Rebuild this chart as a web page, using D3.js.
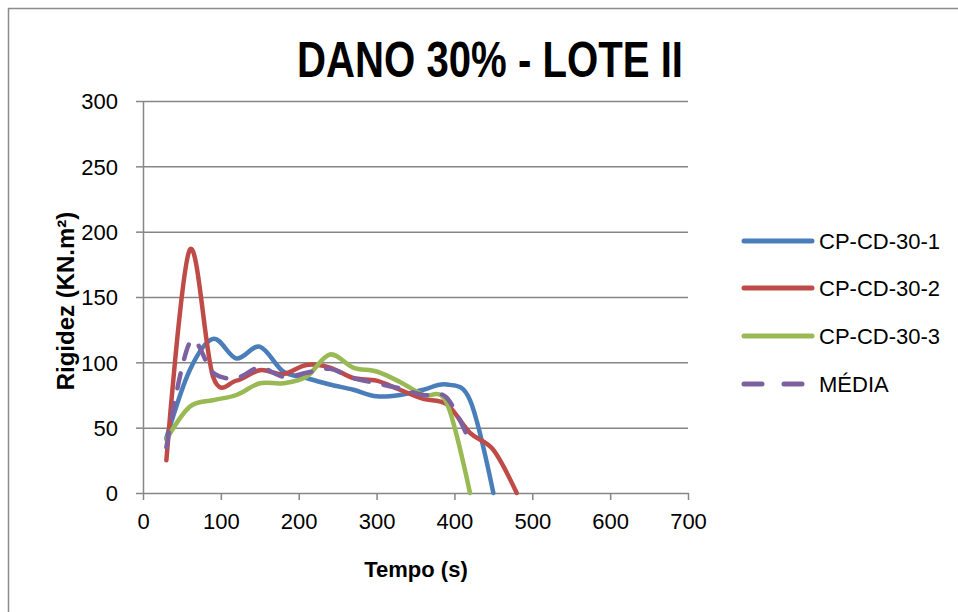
<!DOCTYPE html>
<html>
<head>
<meta charset="utf-8">
<script src="https://cdn.jsdelivr.net/npm/d3@7"></script>
<style>
  body { margin: 0; background: #fff; }
  text { font-family: "Liberation Sans", Arial, sans-serif; fill: #000; }
</style>
</head>
<body>
<svg width="958" height="612"></svg>
<script>
// values, one point every 30 s
const tempo = [30, 60, 90, 120, 150, 180, 210, 240, 270, 300, 330, 360, 390, 420, 450, 480];
const cp1 = [42, 94, 118, 103, 112, 93, 88, 83, 79, 74, 75, 79, 83, 71, 0];
const cp2 = [25, 186, 89, 86, 94, 91, 98, 96, 88, 86, 79, 72, 68, 46, 33, 0];
const cp3 = [41, 66, 71, 75, 84, 84, 89, 106, 96, 93, 85, 75, 69, 0];
const media = [35, 115, 92, 88, 96, 89, 92, 95, 88, 84, 80, 75, 73, 39];

const seriesNames = ["CP-CD-30-1", "CP-CD-30-2", "CP-CD-30-3", "MÉDIA"];
const seriesColors = ["#4A7EBB", "#BE4B48", "#98B954", "#7D60A0"];
const xTicks = [0, 100, 200, 300, 400, 500, 600, 700];
const yTicks = [0, 50, 100, 150, 200, 250, 300];

function drawChart() {
    let svg = d3.select("svg");

    let left = 143, right = 688, top = 101, bottom = 493;

    let x = d3.scaleLinear().domain([0, 700]).range([left, right]);
    let y = d3.scaleLinear().domain([0, 300]).range([bottom, top]);

    // outer frame (runs off the right and bottom edges)
    svg.append("rect")
        .attr("x", 8.5).attr("y", 8.5)
        .attr("width", 980).attr("height", 640)
        .attr("fill", "none")
        .attr("stroke", "#8c8c8c")
        .attr("stroke-width", 1.5);

    // gridlines
    svg.append("g")
        .attr("transform", "translate(" + left + ",0)")
        .call(d3.axisLeft(y).tickValues(yTicks.slice(1)).tickSize(-(right - left)).tickFormat(""))
        .call(g => g.select(".domain").remove())
        .selectAll("line")
        .attr("stroke", "#868686")
        .attr("stroke-width", 1.5);

    // y axis
    let yAxis = svg.append("g")
        .attr("transform", "translate(" + left + ",0)")
        .call(d3.axisLeft(y).tickValues(yTicks).tickSize(7).tickSizeOuter(0).tickPadding(18));
    yAxis.selectAll("text").style("font-size", "22px").attr("dy", "0.35em");

    // x axis
    let xAxis = svg.append("g")
        .attr("transform", "translate(0," + bottom + ")")
        .call(d3.axisBottom(x).tickValues(xTicks).tickSize(7).tickSizeOuter(0).tickPadding(13));
    xAxis.selectAll("text").style("font-size", "22px");

    svg.selectAll(".domain, .tick line").attr("stroke", "#868686").attr("stroke-width", 1.5);

    // series lines
    let line = d3.line()
        .x(d => x(d[0]))
        .y(d => y(d[1]))
        .curve(d3.curveCardinal.tension(0));

    let seriesValues = [cp1, cp2, cp3, media];
    seriesValues.forEach(function (vals, i) {
        let pts = vals.map((v, j) => [tempo[j], v]);
        let p = svg.append("path")
            .attr("d", line(pts))
            .attr("fill", "none")
            .attr("stroke", seriesColors[i])
            .attr("stroke-width", 4.5)
            .attr("stroke-linecap", "round")
            .attr("stroke-linejoin", "round");
        if (i === 3) p.attr("stroke-dasharray", "15,15");
    });

    // title
    svg.append("text")
        .attr("x", 490).attr("y", 77)
        .attr("text-anchor", "middle")
        .attr("textLength", 386)
        .attr("lengthAdjust", "spacingAndGlyphs")
        .style("font-size", "50px")
        .style("font-weight", "bold")
        .text("DANO 30% - LOTE II");

    // axis titles
    svg.append("text")
        .attr("x", 416).attr("y", 577)
        .attr("text-anchor", "middle")
        .style("font-size", "22px")
        .style("font-weight", "bold")
        .text("Tempo (s)");

    svg.append("text")
        .attr("transform", "translate(74,301) rotate(-90)")
        .attr("text-anchor", "middle")
        .style("font-size", "24px")
        .style("font-weight", "bold")
        .text("Rigidez (KN.m²)");

    // legend
    let legendY = [241, 288, 336, 384];
    let legend = svg.append("g");
    seriesNames.forEach(function (name, i) {
        let l = legend.append("line")
            .attr("x1", 744).attr("x2", 812)
            .attr("y1", legendY[i]).attr("y2", legendY[i])
            .attr("stroke", seriesColors[i])
            .attr("stroke-width", 5)
            .attr("stroke-linecap", "round");
        if (i === 3) l.attr("stroke-dasharray", "18,22");
        legend.append("text")
            .attr("x", 819).attr("y", legendY[i])
            .attr("dy", "0.36em")
            .style("font-size", "22px")
            .text(name);
    });
}

drawChart();
</script>
</body>
</html>
